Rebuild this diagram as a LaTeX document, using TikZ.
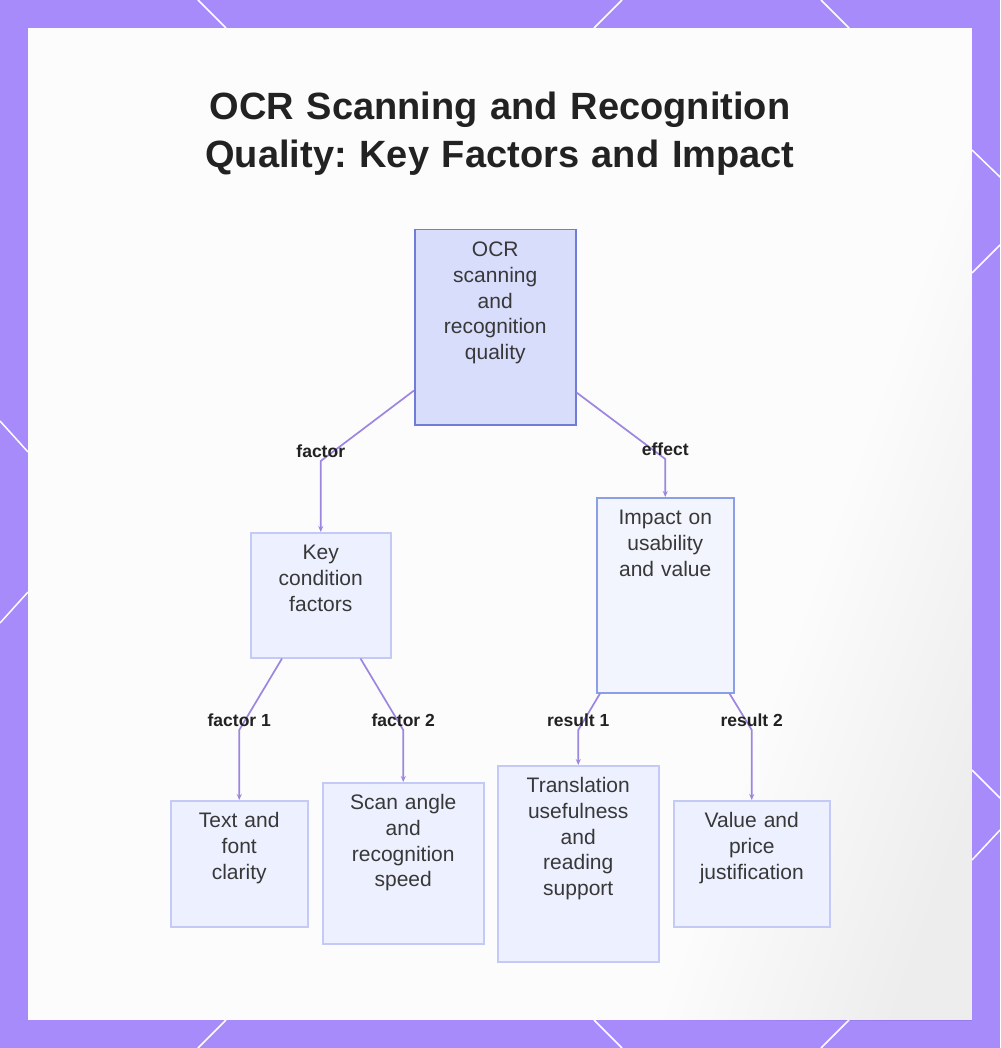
\documentclass[tikz,border=0pt]{standalone}
\usepackage{fontspec}
\setmainfont{Liberation Sans}
\usetikzlibrary{arrows.meta}
\frenchspacing

\definecolor{framecol}{RGB}{167,139,250}
\definecolor{linkcol}{RGB}{157,134,224}
\definecolor{rootfill}{RGB}{217,221,252}
\definecolor{rootline}{RGB}{112,124,216}
\definecolor{impactfill}{RGB}{243,245,254}
\definecolor{impactline}{RGB}{140,158,230}
\definecolor{leaffill}{RGB}{237,240,254}
\definecolor{leafline}{RGB}{196,202,245}
\definecolor{inkcol}{RGB}{34,34,34}

\begin{document}
\begin{tikzpicture}[
    x=1pt, y=-1pt,
    title/.style = {text width=800pt, align=center, anchor=base, text=inkcol,
      font=\bfseries\fontsize{38}{48}\selectfont},
    box/.style = {draw=leafline, fill=leaffill, line width=1.5pt, inner sep=0pt,
      anchor=north west, align=center, text height=27pt, text=inkcol!90,
      font=\fontsize{21}{25.7}\selectfont},
    root/.style = {box, draw=rootline, fill=rootfill},
    impactbox/.style = {box, draw=impactline, fill=impactfill},
    link/.style = {draw=linkcol, line width=1.7pt, -{Stealth[length=6pt,width=5pt]}},
    edge label/.style = {text=inkcol, yshift=10pt, inner sep=0pt,
      font=\bfseries\fontsize{17.5}{20}\selectfont}
  ]
  \useasboundingbox (0,0) rectangle (1000,1048);
  \fill[framecol] (0,0) rectangle (1000,1048);

  \draw[white, line width=1.5pt] (198,0) -- (226,28) (622,0) -- (594,28) (821,0) -- (849,28);
  \draw[white, line width=1.5pt] (198,1048) -- (226,1020) (622,1048) -- (594,1020) (821,1048) -- (849,1020);
  \draw[white, line width=1.5pt] (0,421) -- (28,452) (0,623) -- (28,592);
  \draw[white, line width=1.5pt] (1000,177) -- (972,150) (1000,245) -- (972,273);
  \draw[white, line width=1.5pt] (1000,798) -- (972,770) (1000,830) -- (972,860);

  \fill[white!99!black] (28,28) rectangle (972,1020);
  \begin{scope}
    \clip (28,28) rectangle (972,1020);
    \foreach \s in {0,16,...,224}
      \fill[black, opacity=0.005] (660+\s,1030) -- (1020+\s,10) -- (1300,10) -- (1300,1030) -- cycle;
  \end{scope}

  \node[title] (heading) at (500,120) {OCR Scanning and Recognition\\Quality: Key Factors and Impact};

  \node[root, text width=161pt, text depth=168pt] (quality) at (414,229) {OCR\\scanning\\and\\recognition\\quality};

  \node[box, text width=140pt, text depth=98pt] (key factors) at (250,532) {Key\\condition\\factors};
  \node[impactbox, text width=137pt, text depth=168pt] (impact) at (596,497) {Impact on\\usability\\and value};

  \node[box, text width=137pt, text depth=99pt] (text font) at (170,800) {Text and\\font\\clarity};
  \node[box, text width=161pt, text depth=134pt] (scan angle) at (322,782) {Scan angle\\and\\recognition\\speed};
  \node[box, text width=161pt, text depth=169pt] (translation) at (497,765) {Translation\\usefulness\\and\\reading\\support};
  \node[box, text width=156pt, text depth=99pt] (value) at (673,800) {Value and\\price\\justification};

  \draw[link] ([yshift=35pt]quality.south west) -- ([yshift=71pt]key factors.north) node[edge label] {factor} -- (key factors.north);
  \draw[link] ([yshift=33pt]quality.south east) -- ([yshift=38pt]impact.north) node[edge label] {effect} -- (impact.north);
  \draw[link] ([xshift=32pt]key factors.south west) -- ([yshift=70pt]text font.north) node[edge label] {factor 1} -- (text font.north);
  \draw[link] ([xshift=-31pt]key factors.south east) -- ([yshift=52pt]scan angle.north) node[edge label] {factor 2} -- (scan angle.north);
  \draw[link] ([xshift=4pt]impact.south west) -- ([yshift=35pt]translation.north) node[edge label] {result 1} -- (translation.north);
  \draw[link] ([xshift=-5pt]impact.south east) -- ([yshift=70pt]value.north) node[edge label] {result 2} -- (value.north);
\end{tikzpicture}
\end{document}
